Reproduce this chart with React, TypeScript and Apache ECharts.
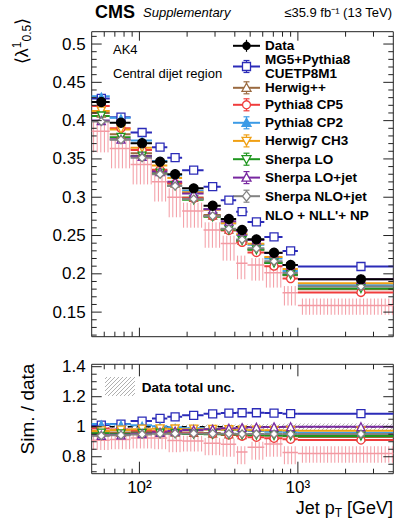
import React, { useEffect, useRef } from "react";
import * as echarts from "echarts";

// ---------------- data ----------------
const binEdges = [50, 65, 88, 120, 150, 186, 254, 326, 408, 481, 614, 800, 1000, 4000];
const binCenters = [57.5, 76.5, 104, 135, 168, 220, 290, 367, 444.5, 547.5, 707, 900, 2500];
const dataMean = [0.4243, 0.3973, 0.3704, 0.3463, 0.3299, 0.3116, 0.2889, 0.2715, 0.2572, 0.245, 0.2275, 0.2115, 0.1928];
const dataRelUnc = [0.012, 0.012, 0.012, 0.012, 0.013, 0.013, 0.014, 0.015, 0.016, 0.017, 0.019, 0.021, 0.022];
const mcRelStat = [0.004, 0.004, 0.004, 0.004, 0.004, 0.005, 0.005, 0.005, 0.006, 0.006, 0.007, 0.008, 0.008];

// simulation / data ratios
const ratioMG5 = [1.011, 1.018, 1.038, 1.055, 1.066, 1.076, 1.086, 1.091, 1.093, 1.093, 1.091, 1.087, 1.087];
const ratioHerwigPP = [0.966, 0.962, 0.965, 0.967, 0.965, 0.962, 0.958, 0.952, 0.948, 0.946, 0.942, 0.937, 0.932];
const ratioP8CP5 = [0.988, 0.982, 0.976, 0.97, 0.964, 0.958, 0.952, 0.945, 0.937, 0.93, 0.923, 0.916, 0.911];
const ratioP8CP2 = [1.018, 1.016, 1.01, 1.003, 0.996, 0.99, 0.985, 0.98, 0.975, 0.971, 0.967, 0.963, 0.96];
const ratioH7CH3 = [0.972, 0.978, 0.984, 0.986, 0.985, 0.984, 0.982, 0.98, 0.978, 0.977, 0.976, 0.975, 0.973];
const ratioSherpaLO = [0.957, 0.952, 0.955, 0.957, 0.955, 0.952, 0.95, 0.948, 0.946, 0.944, 0.941, 0.94, 0.938];
const ratioSherpaLOjet = [0.943, 0.946, 0.954, 0.963, 0.971, 0.978, 0.984, 0.99, 0.994, 0.997, 0.999, 1.0, 1.0];
const ratioSherpaNLOjet = [0.94, 0.944, 0.949, 0.953, 0.954, 0.955, 0.954, 0.953, 0.952, 0.952, 0.951, 0.951, 0.951];
const ratioNLO = [0.91, 0.915, 0.925, 0.925, 0.909, 0.905, 0.89, 0.883, 0.831, 0.863, 0.885, 0.829, 0.822];
const ratioNLOHigh = [0.94, 0.945, 0.96, 0.965, 0.945, 0.94, 0.925, 0.92, 0.87, 0.9, 0.925, 0.87, 0.87];
const ratioNLOLow = [0.845, 0.85, 0.855, 0.85, 0.83, 0.835, 0.81, 0.8, 0.75, 0.78, 0.8, 0.75, 0.76];

// tick labels
const yTickLabelsTop = [0.15, 0.2, 0.25, 0.3, 0.35, 0.4, 0.45, 0.5];
const yTickLabelsRatio = [0.8, 1, 1.2, 1.4];
const xTickLabels = [100, 1000];

const modelNames = [
  "MG5+Pythia8 CUETP8M1",
  "Herwig++",
  "Pythia8 CP5",
  "Pythia8 CP2",
  "Herwig7 CH3",
  "Sherpa LO",
  "Sherpa LO+jet",
  "Sherpa NLO+jet",
];
const modelRatios = [ratioMG5, ratioHerwigPP, ratioP8CP5, ratioP8CP2, ratioH7CH3, ratioSherpaLO, ratioSherpaLOjet, ratioSherpaNLOjet];

// ---------------- styles ----------------
const FONT = '"Liberation Sans", Arial, Helvetica, sans-serif';
const DOWN = "path://M0,0L10,0L5,10Z";
const modelStyles = [
  { color: "#2b2bb8", symbol: "rect", shape: "square", size: 8, filled: false },
  { color: "#9a6a40", symbol: "triangle", shape: "up", size: 8, filled: false },
  { color: "#f03c3c", symbol: "circle", shape: "circle", size: 8, filled: false },
  { color: "#3c9be6", symbol: "triangle", shape: "up", size: 6, filled: true },
  { color: "#f0a014", symbol: DOWN, shape: "down", size: 8, filled: false },
  { color: "#1e961e", symbol: DOWN, shape: "down", size: 8, filled: false },
  { color: "#7828a0", symbol: "triangle", shape: "up", size: 8, filled: false },
  { color: "#828282", symbol: "diamond", shape: "diamond", size: 8, filled: false },
];
const NLO_COLOR = "#f39aa3";

const X_MIN = 50, X_MAX = 4000;
const Y_TOP = [0.1179, 0.5161];
const Y_BOT = [0.687, 1.416];

// ---------------- helpers ----------------
const stepSeries = (axis: number, vals: number[], errs: number[], color: string, z: number, lw = 2) => ({
  type: "custom",
  xAxisIndex: axis,
  yAxisIndex: axis,
  z,
  silent: true,
  clip: true,
  data: vals.map((v, i) => [binEdges[i], binEdges[i + 1], binCenters[i], v, errs[i]]),
  encode: { x: [0, 1, 2], y: 3 },
  renderItem: (params: any, api: any) => {
    const lo = api.value(0), hi = api.value(1), c = api.value(2), v = api.value(3), e = api.value(4);
    const a = api.coord([lo, v]);
    const b = api.coord([hi, v]);
    const t = api.coord([c, v + e]);
    const d = api.coord([c, v - e]);
    const children: any[] = [
      { type: "line", shape: { x1: a[0], y1: a[1], x2: b[0], y2: b[1] }, style: { stroke: color, lineWidth: lw } },
    ];
    if (e > 0) {
      children.push({ type: "line", shape: { x1: t[0], y1: t[1], x2: d[0], y2: d[1] }, style: { stroke: color, lineWidth: 1.2 } });
    }
    return { type: "group", children };
  },
});

const markerSeries = (axis: number, vals: number[], st: any, z: number) => ({
  type: "scatter",
  xAxisIndex: axis,
  yAxisIndex: axis,
  z,
  silent: true,
  symbol: st.symbol,
  symbolSize: st.size,
  itemStyle: { color: st.filled ? st.color : "#fff", borderColor: st.color, borderWidth: 1.3, opacity: 1 },
  data: vals.map((v, i) => [binCenters[i], v]),
});

const vHatch = (x0: number, x1: number, y0: number, y1: number, color: string, s: number) => {
  const out: any[] = [];
  for (let x = Math.ceil(x0 / s) * s; x <= x1; x += s) {
    out.push({ type: "line", shape: { x1: x, y1: y0, x2: x, y2: y1 }, style: { stroke: color, lineWidth: 1 } });
  }
  return out;
};

const dHatch = (xa: number, xb: number, ya: number, yb: number, color: string, s: number) => {
  const out: any[] = [];
  for (let c = Math.ceil((xa + ya) / s) * s; c <= xb + yb; c += s) {
    const xs = Math.max(xa, c - yb);
    const xe = Math.min(xb, c - ya);
    if (xe > xs) out.push({ type: "line", shape: { x1: xs, y1: c - xs, x2: xe, y2: c - xe }, style: { stroke: color, lineWidth: 1 } });
  }
  return out;
};

const bandSeries = (axis: number, lows: number[], highs: number[], color: string, kind: "v" | "d", z: number) => ({
  type: "custom",
  xAxisIndex: axis,
  yAxisIndex: axis,
  z,
  silent: true,
  clip: true,
  data: lows.map((l, i) => [binEdges[i], binEdges[i + 1], l, highs[i]]),
  encode: { x: [0, 1], y: [2, 3] },
  renderItem: (params: any, api: any) => {
    const p1 = api.coord([api.value(0), api.value(3)]);
    const p2 = api.coord([api.value(1), api.value(2)]);
    const cs = params.coordSys;
    const xa = Math.max(p1[0], cs.x), xb = Math.min(p2[0], cs.x + cs.width);
    const ya = Math.max(p1[1], cs.y), yb = Math.min(p2[1], cs.y + cs.height);
    const children = kind === "v" ? vHatch(xa + 1, xb, ya, yb, color, 3.6) : dHatch(xa, xb, ya, yb, color, 4);
    return { type: "group", children };
  },
});

const range = (a: number, b: number, step: number) => {
  const out: number[] = [];
  for (let v = a; v <= b + 1e-9; v += step) out.push(Math.round(v * 1000) / 1000);
  return out;
};
const xMinorTicks: number[] = [];
[10, 100, 1000].forEach((d) => {
  for (let k = 2; k <= 9; k++) {
    const v = k * d;
    if (v > X_MIN && v < X_MAX) xMinorTicks.push(v);
  }
});

const tickSeries = (axis: number, yMajor: number[], yMinor: number[], yRef: number, lens: number[]) => ({
  type: "custom",
  xAxisIndex: axis,
  yAxisIndex: axis,
  z: 20,
  silent: true,
  data: [[100, yRef]],
  renderItem: (params: any, api: any) => {
    const cs = params.coordSys;
    const x0 = cs.x, x1 = cs.x + cs.width, y0 = cs.y, y1 = cs.y + cs.height;
    const ch: any[] = [];
    const L = (a: number, b: number, c: number, d: number) =>
      ch.push({ type: "line", shape: { x1: a, y1: b, x2: c, y2: d }, style: { stroke: "#222", lineWidth: 1 } });
    const [xMaj, xMin, yMaj, yMin] = lens;
    xTickLabels.forEach((v) => {
      const px = api.coord([v, yRef])[0];
      L(px, y1, px, y1 - xMaj);
      L(px, y0, px, y0 + xMaj);
    });
    xMinorTicks.forEach((v) => {
      const px = api.coord([v, yRef])[0];
      L(px, y1, px, y1 - xMin);
      L(px, y0, px, y0 + xMin);
    });
    yMajor.forEach((v) => {
      const py = api.coord([100, v])[1];
      L(x0, py, x0 + yMaj, py);
      L(x1, py, x1 - yMaj, py);
    });
    yMinor.forEach((v) => {
      const py = api.coord([100, v])[1];
      L(x0, py, x0 + yMin, py);
      L(x1, py, x1 - yMin, py);
    });
    return { type: "group", children: ch };
  },
});

// ---------------- legend graphic ----------------
const symbolGraphic = (shape: string, cx: number, cy: number, color: string, filled: boolean) => {
  const style = { fill: filled ? color : "#fff", stroke: color, lineWidth: 1.3 };
  const r = 4;
  switch (shape) {
    case "dot":
      return { type: "circle", shape: { cx, cy, r: 4.2 }, style: { fill: "#000" } };
    case "square":
      return { type: "rect", shape: { x: cx - r, y: cy - r, width: 2 * r, height: 2 * r }, style };
    case "circle":
      return { type: "circle", shape: { cx, cy, r }, style };
    case "up":
      return { type: "polygon", shape: { points: [[cx, cy - 4.5], [cx + 4.5, cy + 3.5], [cx - 4.5, cy + 3.5]] }, style };
    case "down":
      return { type: "polygon", shape: { points: [[cx - 4.5, cy - 3.5], [cx + 4.5, cy - 3.5], [cx, cy + 4.5]] }, style };
    default:
      return { type: "polygon", shape: { points: [[cx, cy - 5], [cx + 4, cy], [cx, cy + 5], [cx - 4, cy]] }, style };
  }
};

const buildLegend = () => {
  const els: any[] = [];
  const lx0 = 233, lx1 = 260, cx = 246.5, tx = 265;
  const txt = (t: string, y: number) =>
    els.push({
      type: "text",
      x: tx,
      y,
      style: { text: t, fill: "#000", font: `bold 13.5px ${FONT}`, align: "left", verticalAlign: "middle", textAlign: "left", textVerticalAlign: "middle" },
    });
  const entry = (y: number, color: string, shape: string, filled: boolean, caps: boolean) => {
    els.push({ type: "line", shape: { x1: lx0, y1: y, x2: lx1, y2: y }, style: { stroke: color, lineWidth: 2 } });
    els.push({ type: "line", shape: { x1: cx, y1: y - 6, x2: cx, y2: y + 6 }, style: { stroke: color, lineWidth: 1.2 } });
    if (caps) {
      els.push({ type: "line", shape: { x1: cx - 3, y1: y - 6, x2: cx + 3, y2: y - 6 }, style: { stroke: color, lineWidth: 1.2 } });
      els.push({ type: "line", shape: { x1: cx - 3, y1: y + 6, x2: cx + 3, y2: y + 6 }, style: { stroke: color, lineWidth: 1.2 } });
    }
    els.push(symbolGraphic(shape, cx, y, color, filled));
  };
  entry(45.8, "#000", "dot", true, false);
  txt("Data", 45.8);
  const rows = [66.5, 87.8, 104.8, 122.8, 140.9, 159.2, 177.6, 196.2];
  modelStyles.forEach((st, i) => {
    entry(rows[i], st.color, st.shape, st.filled, true);
  });
  txt("MG5+Pythia8", 59.3);
  txt("CUETP8M1", 73.8);
  modelNames.slice(1).forEach((n, i) => txt(n, rows[i + 1]));
  txt("NLO + NLL'+ NP", 215);
  return els;
};

const buildGraphics = () => {
  const els: any[] = [];
  const text = (t: string, x: number, y: number, font: string, align = "left", extra: any = {}) =>
    els.push({
      type: "text",
      x,
      y,
      ...extra,
      style: { text: t, fill: "#000", font, align, verticalAlign: "middle", textAlign: align, textVerticalAlign: "middle" },
    });
  text("CMS", 95, 11.5, `bold 18px ${FONT}`);
  text("Supplementary", 143, 12.8, `italic 13px ${FONT}`);
  text("\u226435.9 fb\u207B\u00B9 (13 TeV)", 392, 12.5, `13px ${FONT}`, "right");
  text("AK4", 113, 49, `13px ${FONT}`);
  text("Central dijet region", 113, 73.2, `13px ${FONT}`);
  text("Data total unc.", 141.7, 387.5, `bold 13.5px ${FONT}`);
  els.push(...dHatch(105, 135, 377, 396, "#b0b0b0", 4));
  // y-axis titles
  els.push({
    type: "text",
    x: 22,
    y: 41,
    rotation: Math.PI / 2,
    style: {
      text: "{a|\u27E8\u03BB}{sup|1}{sub|0.5}{a|\u27E9}",
      align: "center",
      verticalAlign: "middle",
      textAlign: "center",
      textVerticalAlign: "middle",
      fill: "#000",
      rich: {
        a: { fontSize: 18, fontFamily: FONT, lineHeight: 22, fill: "#000" },
        sup: { fontSize: 12, fontFamily: FONT, verticalAlign: "top", lineHeight: 12, fill: "#000" },
        sub: { fontSize: 12, fontFamily: FONT, verticalAlign: "bottom", lineHeight: 12, fill: "#000" },
      },
    },
  });
  els.push({
    type: "text",
    x: 27,
    y: 409,
    rotation: Math.PI / 2,
    style: { text: "Sim. / data", font: `19px ${FONT}`, fill: "#000", align: "center", verticalAlign: "middle", textAlign: "center", textVerticalAlign: "middle" },
  });
  els.push({
    type: "text",
    x: 393,
    y: 508,
    style: {
      text: "{a|Jet p}{sub|T}{a| [GeV]}",
      align: "right",
      verticalAlign: "middle",
      textAlign: "right",
      textVerticalAlign: "middle",
      fill: "#000",
      rich: {
        a: { fontSize: 18, fontFamily: FONT, lineHeight: 22, fill: "#000" },
        sub: { fontSize: 12, fontFamily: FONT, verticalAlign: "bottom", lineHeight: 12, padding: [6, 0, 0, 0], fill: "#000" },
      },
    },
  });
  els.push(...buildLegend());
  return els;
};

// ---------------- option ----------------
const buildOption = () => {
  const series: any[] = [];
  const topModel = modelRatios.map((r) => r.map((v, i) => v * dataMean[i]));
  const nloTop = ratioNLO.map((v, i) => v * dataMean[i]);
  const nloTopLow = ratioNLOLow.map((v, i) => v * dataMean[i]);
  const nloTopHigh = ratioNLOHigh.map((v, i) => v * dataMean[i]);
  const zeros = binCenters.map(() => 0);

  // top panel
  series.push(bandSeries(0, nloTopLow, nloTopHigh, NLO_COLOR, "v", 1));
  series.push(stepSeries(0, nloTop, zeros, NLO_COLOR, 2, 1.5));
  topModel.forEach((vals, k) => {
    const st = modelStyles[k];
    series.push(stepSeries(0, vals, vals.map((v, i) => v * mcRelStat[i]), st.color, 3 + k * 0.01, 2));
  });
  topModel.forEach((vals, k) => series.push(markerSeries(0, vals, modelStyles[k], 4 + k * 0.01)));
  series.push(stepSeries(0, dataMean, dataMean.map((v, i) => v * dataRelUnc[i]), "#000", 5, 2));
  series.push(markerSeries(0, dataMean, { color: "#000", symbol: "circle", size: 9, filled: true }, 6));

  // ratio panel
  series.push(bandSeries(1, ratioNLOLow, ratioNLOHigh, NLO_COLOR, "v", 1));
  series.push(stepSeries(1, ratioNLO, zeros, NLO_COLOR, 2, 1.5));
  series.push(
    bandSeries(
      1,
      dataRelUnc.map((u) => 1 - u),
      dataRelUnc.map((u) => 1 + u),
      "#b4b4b4",
      "d",
      1.5
    )
  );
  series.push({
    type: "line",
    xAxisIndex: 1,
    yAxisIndex: 1,
    z: 2.5,
    silent: true,
    symbol: "none",
    lineStyle: { color: "#000", width: 1.5, type: [5, 4] },
    data: [
      [X_MIN, 1],
      [X_MAX, 1],
    ],
  });
  modelRatios.forEach((vals, k) => {
    const st = modelStyles[k];
    series.push(stepSeries(1, vals, vals.map((v, i) => mcRelStat[i]), st.color, 3 + k * 0.01, 2));
  });
  modelRatios.forEach((vals, k) => series.push(markerSeries(1, vals, modelStyles[k], 4 + k * 0.01)));

  // ticks
  const yMinorTop = range(0.12, 0.51, 0.01).filter((v) => Math.abs(v / 0.05 - Math.round(v / 0.05)) > 1e-6);
  const yMinorBot = range(0.7, 1.4, 0.05).filter((v) => Math.abs(v / 0.2 - Math.round(v / 0.2)) > 1e-6);
  series.push(tickSeries(0, yTickLabelsTop, yMinorTop, 0.3, [9, 5, 10, 5]));
  series.push(tickSeries(1, yTickLabelsRatio, yMinorBot, 1.0, [12, 5, 10, 5]));

  const gridBase = { show: true, borderColor: "#222", borderWidth: 1, backgroundColor: "transparent", containLabel: false, outerBoundsMode: "none" };
  const yLabel = { color: "#000", fontSize: 17, fontFamily: FONT, margin: 6 };

  return {
    animation: false,
    backgroundColor: "#fff",
    grid: [
      { ...gridBase, left: 91.7, top: 31.7, width: 301.6, height: 305 },
      { ...gridBase, left: 91.7, top: 364.3, width: 301.6, height: 109.4 },
    ],
    xAxis: [
      {
        type: "log",
        logBase: 10,
        gridIndex: 0,
        min: X_MIN,
        max: X_MAX,
        axisLine: { show: false },
        axisTick: { show: false },
        axisLabel: { show: false },
        splitLine: { show: false },
      },
      {
        type: "log",
        logBase: 10,
        gridIndex: 1,
        min: X_MIN,
        max: X_MAX,
        axisLine: { show: false },
        axisTick: { show: false },
        splitLine: { show: false },
        axisLabel: {
          customValues: xTickLabels,
          color: "#000",
          fontSize: 17,
          fontFamily: FONT,
          margin: 5,
          formatter: (v: number) => {
            const e = v > 10 ? Math.round(Math.log10(v)) : Math.round(v);
            return e === 2 ? "10\u00B2" : e === 3 ? "10\u00B3" : "";
          },
        },
      },
    ],
    yAxis: [
      {
        type: "value",
        gridIndex: 0,
        min: Y_TOP[0],
        max: Y_TOP[1],
        axisLine: { show: false },
        axisTick: { show: false },
        splitLine: { show: false },
        axisLabel: { ...yLabel, customValues: yTickLabelsTop },
      },
      {
        type: "value",
        gridIndex: 1,
        min: Y_BOT[0],
        max: Y_BOT[1],
        axisLine: { show: false },
        axisTick: { show: false },
        splitLine: { show: false },
        axisLabel: { ...yLabel, customValues: yTickLabelsRatio },
      },
    ],
    graphic: buildGraphics(),
    series,
  };
};

export default function App() {
  const ref = useRef<HTMLDivElement>(null);
  useEffect(() => {
    if (!ref.current) return;
    const chart = echarts.init(ref.current, null, { renderer: "svg" });
    chart.setOption(buildOption() as any);
    return () => chart.dispose();
  }, []);
  return (
    <div
      ref={ref}
      style={{ position: "fixed", left: 0, top: 0, width: 395, height: 522, background: "#fff" }}
    />
  );
}
